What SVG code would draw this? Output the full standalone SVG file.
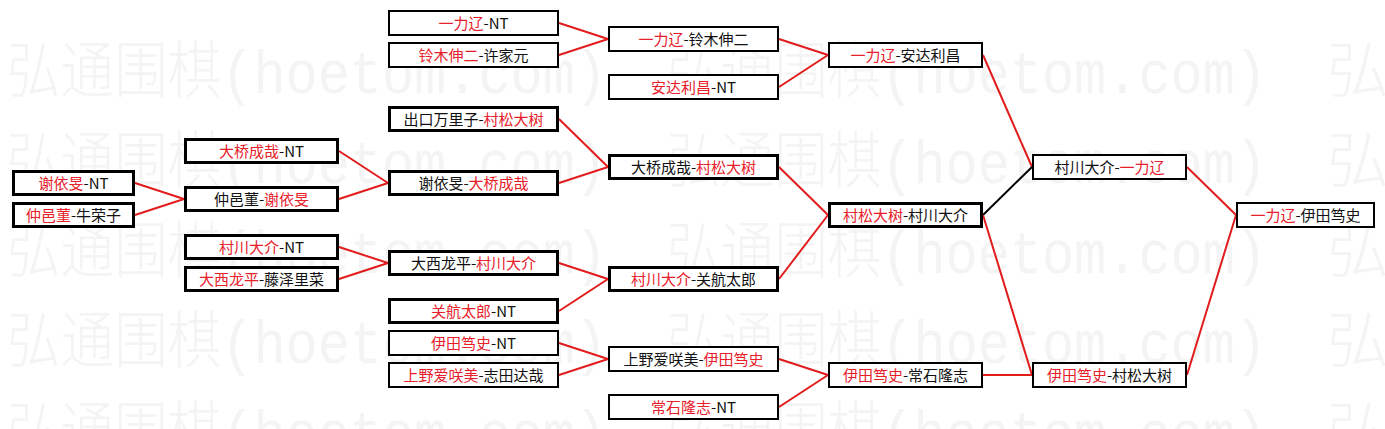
<svg xmlns="http://www.w3.org/2000/svg" width="1385" height="429" viewBox="0 0 1385 429">
<style>
.wm{font-family:"Liberation Mono","Noto Sans CJK SC",monospace;font-size:62px;font-weight:300;fill:#f4f4f4}
.box{fill:#fff;stroke:#000;stroke-width:2}
.thick{stroke-width:3}
.t{font-family:"Noto Sans CJK SC","Noto Sans CJK JP",sans-serif;font-size:15px;fill:#111;text-anchor:middle}
.r{fill:#e8202a}
.ln{stroke:#e21c1c;stroke-width:2;fill:none}
.lk{stroke:#000;stroke-width:2;fill:none}
</style>
<rect width="1385" height="429" fill="#fff"/>
<g id="watermark">
<text class="wm" x="7" y="93" textLength="600" lengthAdjust="spacingAndGlyphs">弘通围棋(hoetom.com)</text>
<text class="wm" x="667" y="93" textLength="600" lengthAdjust="spacingAndGlyphs">弘通围棋(hoetom.com)</text>
<text class="wm" x="1327" y="93">弘</text>
<text class="wm" x="7" y="183" textLength="600" lengthAdjust="spacingAndGlyphs">弘通围棋(hoetom.com)</text>
<text class="wm" x="667" y="183" textLength="600" lengthAdjust="spacingAndGlyphs">弘通围棋(hoetom.com)</text>
<text class="wm" x="1327" y="183">弘</text>
<text class="wm" x="7" y="273" textLength="600" lengthAdjust="spacingAndGlyphs">弘通围棋(hoetom.com)</text>
<text class="wm" x="667" y="273" textLength="600" lengthAdjust="spacingAndGlyphs">弘通围棋(hoetom.com)</text>
<text class="wm" x="1327" y="273">弘</text>
<text class="wm" x="7" y="363" textLength="600" lengthAdjust="spacingAndGlyphs">弘通围棋(hoetom.com)</text>
<text class="wm" x="667" y="363" textLength="600" lengthAdjust="spacingAndGlyphs">弘通围棋(hoetom.com)</text>
<text class="wm" x="1327" y="363">弘</text>
<text class="wm" x="7" y="453" textLength="600" lengthAdjust="spacingAndGlyphs">弘通围棋(hoetom.com)</text>
<text class="wm" x="667" y="453" textLength="600" lengthAdjust="spacingAndGlyphs">弘通围棋(hoetom.com)</text>
<text class="wm" x="1327" y="453">弘</text>
</g>
<g id="connectors">
<path class="ln" d="M135,183 L184,199 M135,215 L184,199"/>
<path class="ln" d="M339,151 L388,183 M339,199 L388,183"/>
<path class="ln" d="M339,247 L388,263 M339,279 L388,263"/>
<path class="ln" d="M559,23 L608,39 M559,55 L608,39"/>
<path class="ln" d="M559,119 L608,167 M559,183 L608,167"/>
<path class="ln" d="M559,263 L608,279 M559,311 L608,279"/>
<path class="ln" d="M559,343 L608,359 M559,375 L608,359"/>
<path class="ln" d="M779,39 L828,55 M779,87 L828,55"/>
<path class="ln" d="M779,167 L828,215 M779,279 L828,215"/>
<path class="ln" d="M779,359 L828,375 M779,407 L828,375"/>
<path class="ln" d="M983,55 L1032,167"/>
<path class="lk" d="M983,215 L1032,167"/>
<path class="ln" d="M983,215 L1032,375 M983,375 L1032,375"/>
<path class="ln" d="M1187,167 L1236,215 M1187,375 L1236,215"/>
</g>
<g id="A1"><rect class="box thick" x="13.5" y="171.5" width="120" height="23"/><text class="t" x="73.5" y="188.5"><tspan class="r">谢依旻</tspan>-NT</text></g>
<g id="A2"><rect class="box thick" x="13.5" y="203.5" width="120" height="23"/><text class="t" x="73.5" y="220.5"><tspan class="r">仲邑菫</tspan>-牛荣子</text></g>
<g id="B1"><rect class="box thick" x="185.5" y="139.5" width="152" height="23"/><text class="t" x="261.5" y="156.5"><tspan class="r">大桥成哉</tspan>-NT</text></g>
<g id="B2"><rect class="box thick" x="185.5" y="187.5" width="152" height="23"/><text class="t" x="261.5" y="204.5">仲邑菫-<tspan class="r">谢依旻</tspan></text></g>
<g id="B3"><rect class="box thick" x="185.5" y="235.5" width="152" height="23"/><text class="t" x="261.5" y="252.5"><tspan class="r">村川大介</tspan>-NT</text></g>
<g id="B4"><rect class="box thick" x="185.5" y="267.5" width="152" height="23"/><text class="t" x="261.5" y="284.5"><tspan class="r">大西龙平</tspan>-藤泽里菜</text></g>
<g id="C1"><rect class="box" x="389" y="11" width="169" height="24"/><text class="t" x="473.5" y="28.5"><tspan class="r">一力辽</tspan>-NT</text></g>
<g id="C2"><rect class="box" x="389" y="43" width="169" height="24"/><text class="t" x="473.5" y="60.5"><tspan class="r">铃木伸二</tspan>-许家元</text></g>
<g id="C3"><rect class="box thick" x="389.5" y="107.5" width="168" height="23"/><text class="t" x="473.5" y="124.5">出口万里子-<tspan class="r">村松大树</tspan></text></g>
<g id="C4"><rect class="box thick" x="389.5" y="171.5" width="168" height="23"/><text class="t" x="473.5" y="188.5">谢依旻-<tspan class="r">大桥成哉</tspan></text></g>
<g id="C5"><rect class="box thick" x="389.5" y="251.5" width="168" height="23"/><text class="t" x="473.5" y="268.5">大西龙平-<tspan class="r">村川大介</tspan></text></g>
<g id="C6"><rect class="box thick" x="389.5" y="299.5" width="168" height="23"/><text class="t" x="473.5" y="316.5"><tspan class="r">关航太郎</tspan>-NT</text></g>
<g id="C7"><rect class="box" x="389" y="331" width="169" height="24"/><text class="t" x="473.5" y="348.5"><tspan class="r">伊田笃史</tspan>-NT</text></g>
<g id="C8"><rect class="box" x="389" y="363" width="169" height="24"/><text class="t" x="473.5" y="380.5"><tspan class="r">上野爱咲美</tspan>-志田达哉</text></g>
<g id="D1"><rect class="box" x="609" y="27" width="169" height="24"/><text class="t" x="693.5" y="44.5"><tspan class="r">一力辽</tspan>-铃木伸二</text></g>
<g id="D2"><rect class="box" x="609" y="75" width="169" height="24"/><text class="t" x="693.5" y="92.5"><tspan class="r">安达利昌</tspan>-NT</text></g>
<g id="D3"><rect class="box thick" x="609.5" y="155.5" width="168" height="23"/><text class="t" x="693.5" y="172.5">大桥成哉-<tspan class="r">村松大树</tspan></text></g>
<g id="D4"><rect class="box thick" x="609.5" y="267.5" width="168" height="23"/><text class="t" x="693.5" y="284.5"><tspan class="r">村川大介</tspan>-关航太郎</text></g>
<g id="D5"><rect class="box" x="609" y="347" width="169" height="24"/><text class="t" x="693.5" y="364.5">上野爱咲美-<tspan class="r">伊田笃史</tspan></text></g>
<g id="D6"><rect class="box" x="609" y="395" width="169" height="24"/><text class="t" x="693.5" y="412.5"><tspan class="r">常石隆志</tspan>-NT</text></g>
<g id="E1"><rect class="box" x="829" y="43" width="153" height="24"/><text class="t" x="905.5" y="60.5"><tspan class="r">一力辽</tspan>-安达利昌</text></g>
<g id="E2"><rect class="box thick" x="829.5" y="203.5" width="152" height="23"/><text class="t" x="905.5" y="220.5"><tspan class="r">村松大树</tspan>-村川大介</text></g>
<g id="E3"><rect class="box" x="829" y="363" width="153" height="24"/><text class="t" x="905.5" y="380.5"><tspan class="r">伊田笃史</tspan>-常石隆志</text></g>
<g id="F1"><rect class="box" x="1033" y="155" width="153" height="24"/><text class="t" x="1109.5" y="172.5">村川大介-<tspan class="r">一力辽</tspan></text></g>
<g id="F2"><rect class="box" x="1033" y="363" width="153" height="24"/><text class="t" x="1109.5" y="380.5"><tspan class="r">伊田笃史</tspan>-村松大树</text></g>
<g id="G1"><rect class="box" x="1237" y="203" width="137" height="24"/><text class="t" x="1305.5" y="220.5"><tspan class="r">一力辽</tspan>-伊田笃史</text></g>
</svg>
